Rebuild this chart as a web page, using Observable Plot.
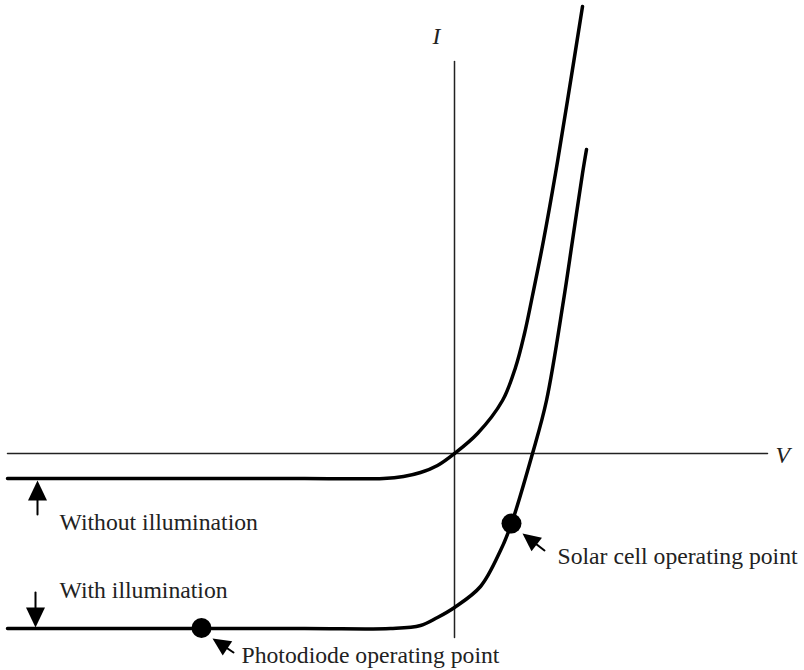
<!DOCTYPE html>
<html>
<head>
<meta charset="utf-8">
<script src="https://cdn.jsdelivr.net/npm/d3@7"></script>
<script src="https://cdn.jsdelivr.net/npm/@observablehq/plot@0.6"></script>
<style>
  html, body { margin: 0; padding: 0; background: #fff; }
  #chart svg { display: block; }
  #chart svg text { font-family: "Liberation Serif", "Times New Roman", Times, "DejaVu Serif", serif !important; }
</style>
</head>
<body>
<div id="chart"></div>
<script>
// ---- data (V and I in arbitrary units) ----
const darkV  = [-4.47, -1.5, -0.71, -0.51, -0.34, -0.17, 0, 0.23, 0.48, 0.61, 0.70, 0.77, 0.89, 1.01, 1.13, 1.28];
const darkI  = [-0.5, -0.5, -0.5, -0.46, -0.38, -0.24, 0, 0.40, 1.06, 1.72, 2.4, 3.06, 4.26, 5.6, 7.06, 8.94];
const lightV = [-4.47, -1.5, -0.64, -0.34, -0.17, 0, 0.26, 0.46, 0.57, 0.78, 0.92, 1.09, 1.18, 1.28, 1.32];
const lightI = [-3.5, -3.5, -3.5, -3.44, -3.28, -3.08, -2.66, -1.94, -1.40, 0, 1.06, 3.06, 4.26, 5.6, 6.08];

const pointNames = ["Solar cell", "Photodiode"];
const pointV = [0.57, -2.53];
const pointI = [-1.40, -3.49];

const axisVRange = [-4.47, 3.13];   // horizontal axis extent
const axisIRange = [-3.68, 7.84];   // vertical axis extent

const labelTexts = ["Without illumination", "With illumination", "Solar cell operating point", "Photodiode operating point"];
const labelV = [-3.95, -3.95, 1.03, -2.13];
const labelI = [-1.52, -2.88, -2.2, -4.18];

const axisLabelTexts = ["I", "V"];
const axisLabelV = [-0.22, 3.21];
const axisLabelI = [8.2, -0.18];

const arrowTailV = [-4.17, -4.19, 0.90, -2.21];
const arrowTailI = [-1.22, -2.78, -1.94, -3.98];
const arrowTipV  = [-4.17, -4.19, 0.68, -2.42];
const arrowTipI  = [-0.54, -3.48, -1.60, -3.70];

// ---- build ----
const W = 804, H = 670;
const xOpts = {domain: [-4.54, 3.50], range: [0, W]};
const yOpts = {domain: [-4.34, 9.06], range: [H, 0]};
const sx = Plot.scale({x: xOpts});
const sy = Plot.scale({y: yOpts});

const dark = darkV.map((v, i) => ({V: v, I: darkI[i]}));
const light = lightV.map((v, i) => ({V: v, I: lightI[i]}));
const points = pointNames.map((n, i) => ({name: n, V: pointV[i], I: pointI[i]}));
const labels = labelTexts.map((t, i) => ({t, V: labelV[i], I: labelI[i]}));
const axisLabels = axisLabelTexts.map((t, i) => ({t, V: axisLabelV[i], I: axisLabelI[i]}));
const arrows = arrowTailV.map((v, i) => {
  const x1 = sx.apply(v), y1 = sy.apply(arrowTailI[i]);
  const x2 = sx.apply(arrowTipV[i]), y2 = sy.apply(arrowTipI[i]);
  const angle = Math.atan2(x2 - x1, -(y2 - y1)) * 180 / Math.PI;
  return {V1: v, I1: arrowTailI[i], V2: arrowTipV[i], I2: arrowTipI[i], angle, vertical: i < 2};
});

// arrowhead symbol: tip at origin, pointing up
const arrowHead = {
  draw(ctx, size) {
    const r = Math.sqrt(size / Math.PI);
    const L = 2 * r, Wd = 1.9 * r;
    ctx.moveTo(0, 0);
    ctx.lineTo(Wd / 2, L);
    ctx.lineTo(-Wd / 2, L);
    ctx.closePath();
  }
};

const font = "Liberation Serif";

const chart = Plot.plot({
  width: W,
  height: H,
  margin: 0,
  x: {...xOpts, axis: null},
  y: {...yOpts, axis: null},
  style: "background: #fff;",
  marks: [
    // axes
    Plot.lineY(axisVRange.map(v => ({V: v, I: 0})), {x: "V", y: "I", stroke: "#222", strokeWidth: 1.5}),
    Plot.lineX(axisIRange.map(i => ({V: 0, I: i})), {x: "V", y: "I", stroke: "#222", strokeWidth: 1.5}),
    // curves
    Plot.line(dark, {x: "V", y: "I", curve: "catmull-rom", stroke: "#000", strokeWidth: 3.5}),
    Plot.line(light, {x: "V", y: "I", curve: "catmull-rom", stroke: "#000", strokeWidth: 3.5}),
    // operating points
    Plot.dot(points, {x: "V", y: "I", r: 10, fill: "#000", stroke: "none"}),
    // arrow shafts
    Plot.arrow(arrows, {x1: "V1", y1: "I1", x2: "V2", y2: "I2", headLength: 0, insetEnd: 8, stroke: "#000", strokeWidth: 2}),
    // arrow heads
    Plot.dot(arrows.filter(d => d.vertical), {x: "V2", y: "I2", r: 10, symbol: arrowHead, rotate: "angle", fill: "#000", stroke: "none"}),
    Plot.dot(arrows.filter(d => !d.vertical), {x: "V2", y: "I2", r: 9, symbol: arrowHead, rotate: "angle", fill: "#000", stroke: "none"}),
    // labels
    Plot.text(labels, {x: "V", y: "I", text: "t", textAnchor: "start", lineAnchor: "bottom", fontSize: 23.7, fontFamily: font, fill: "#222"}),
    Plot.text(axisLabels, {x: "V", y: "I", text: "t", textAnchor: "start", lineAnchor: "bottom", fontSize: 23.7, fontFamily: font, fontStyle: "italic", fill: "#222"})
  ]
});
document.getElementById("chart").appendChild(chart);
</script>
</body>
</html>
